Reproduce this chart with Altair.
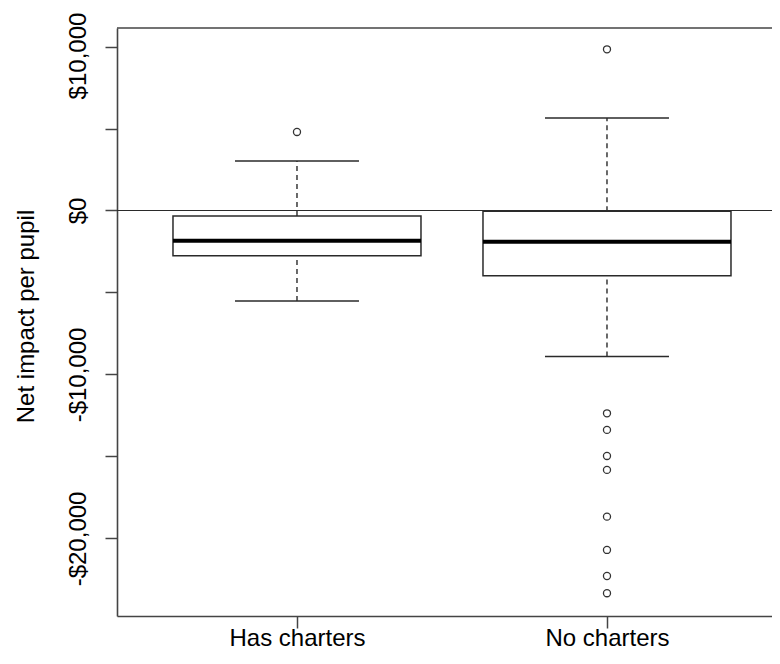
import altair as alt
import pandas as pd

# ---- data ----
groups = ["Has charters", "No charters"]
lower_whisker = [-5520, -8910]
q1 = [-2760, -3980]
median = [-1840, -1900]
q3 = [-335, -40]
upper_whisker = [3020, 5640]

outlier_group = ["Has charters", "No charters", "No charters", "No charters", "No charters",
                 "No charters", "No charters", "No charters", "No charters", "No charters"]
outlier_value = [4790, 9830, -12370, -13380, -14970, -15820, -18670, -20700, -22290, -23340]

y_ticks = [-20000, -15000, -10000, -5000, 0, 5000, 10000]

# ---- tables ----
stats = pd.DataFrame({
    "group": groups,
    "pos": list(range(1, len(groups) + 1)),
    "lo": lower_whisker,
    "q1": q1,
    "med": median,
    "q3": q3,
    "hi": upper_whisker,
})
pos_of = {g: i + 1 for i, g in enumerate(groups)}
outs = pd.DataFrame({"group": outlier_group, "value": outlier_value})
outs["pos"] = outs["group"].map(pos_of)

FONT = "Liberation Sans"
LINE = "#2a2a2a"
AX = "#444444"

x_label_expr = " : ".join(
    [f"datum.value == {i + 1} ? '{g}'" for i, g in enumerate(groups)] + ["''"]
)

x_scale = alt.Scale(domain=[0.4194, 2.5323], nice=False, zero=False)
y_scale = alt.Scale(domain=[-24730, 11130], nice=False, zero=False)

x_axis = alt.Axis(
    values=list(range(1, len(groups) + 1)),
    labelExpr=x_label_expr,
    title=None,
    grid=False,
    labelFont=FONT,
    labelFontSize=24,
    labelColor="black",
    labelFlush=False,
    labelOverlap=False,
    labelBaseline="alphabetic",
    labelPadding=17,
    tickSize=12,
    tickColor=AX,
    tickWidth=1.5,
    domainColor=AX,
    domainWidth=1.6,
)

y_axis = alt.Axis(
    values=y_ticks,
    labelExpr="datum.value % 10000 === 0 ? (datum.value < 0 ? '-$' : '$') + format(abs(datum.value), ',') : ''",
    title="Net impact per pupil",
    grid=False,
    labelFont=FONT,
    labelFontSize=24,
    labelColor="black",
    labelAngle=270,
    labelAlign="center",
    labelBaseline="alphabetic",
    labelPadding=20,
    labelOffset=alt.condition("datum.value === 10000", alt.value(9), alt.value(0)),
    labelFlush=False,
    labelOverlap=False,
    tickSize=12,
    tickColor=AX,
    tickWidth=1.5,
    domainColor=AX,
    domainWidth=1.6,
    titleFont=FONT,
    titleFontSize=24,
    titleFontWeight="normal",
    titleColor="black",
    titleAngle=270,
    titleAlign="center",
    titleBaseline="alphabetic",
    titleX=-84,
    titleY=288,
)

base = alt.Chart(stats).transform_calculate(
    left="datum.pos - 0.4",
    right="datum.pos + 0.4",
    capl="datum.pos - 0.2",
    capr="datum.pos + 0.2",
)

upper_dash = base.mark_rule(color=LINE, strokeWidth=1.4, strokeDash=[5, 4]).encode(
    x=alt.X("pos:Q", scale=x_scale, axis=x_axis),
    y=alt.Y("q3:Q", scale=y_scale, axis=y_axis),
    y2="hi:Q",
)
lower_dash = base.mark_rule(color=LINE, strokeWidth=1.4, strokeDash=[5, 4]).encode(
    x="pos:Q", y="lo:Q", y2="q1:Q"
)
box = base.mark_rect(fill="white", stroke=LINE, strokeWidth=1.5).encode(
    x="left:Q", x2="right:Q", y="q1:Q", y2="q3:Q"
)
med = base.mark_rule(color="black", strokeWidth=4).encode(
    x="left:Q", x2="right:Q", y="med:Q"
)
cap_hi = base.mark_rule(color=LINE, strokeWidth=1.5).encode(
    x="capl:Q", x2="capr:Q", y="hi:Q"
)
cap_lo = base.mark_rule(color=LINE, strokeWidth=1.5).encode(
    x="capl:Q", x2="capr:Q", y="lo:Q"
)
points = alt.Chart(outs).mark_point(
    shape="circle", filled=False, size=50, stroke="#333333", strokeWidth=1.3, opacity=1
).encode(x="pos:Q", y="value:Q")

zero_line = alt.Chart(pd.DataFrame({"v": [0]})).mark_rule(color=LINE, strokeWidth=1.2).encode(
    y=alt.Y("v:Q")
)
top_frame = alt.Chart(pd.DataFrame({"v": [0]})).mark_rule(color=AX, strokeWidth=1.6).encode(
    y=alt.value(0)
)

chart = alt.layer(
    upper_dash, lower_dash, box, med, cap_hi, cap_lo, points, zero_line, top_frame
).properties(
    width=655,
    height=588,
    padding={"left": 109, "top": 20, "right": 0, "bottom": 36},
    autosize=alt.AutoSizeParams(type="none"),
    background="white",
).configure_view(stroke=None)

chart.save("out.html", embed_options={"renderer": "svg", "actions": False})
